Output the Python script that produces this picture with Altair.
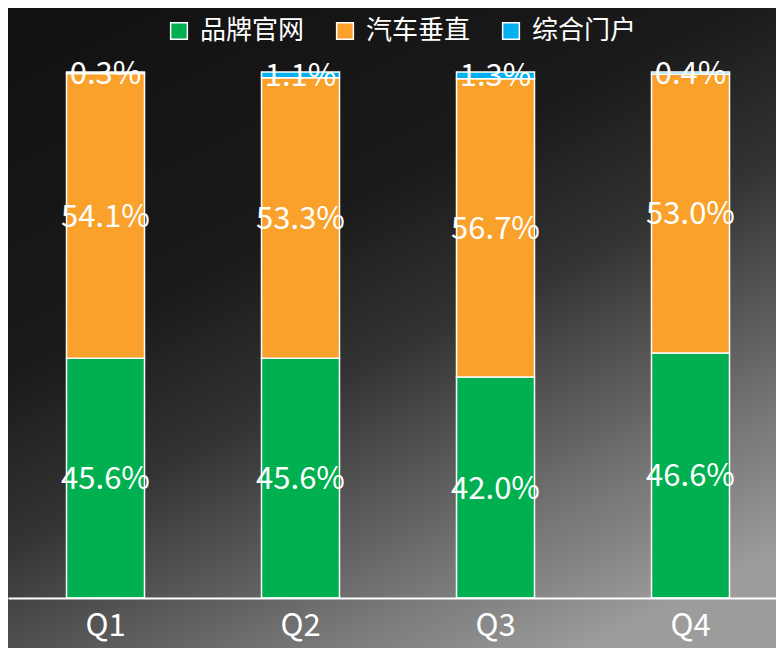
import altair as alt
import pandas as pd

quarters = ["Q1", "Q2", "Q3", "Q4"]
series = ["品牌官网", "汽车垂直", "综合门户"]
colors = ["#00B050", "#F9A12A", "#00B0F0"]
brand = [45.6, 45.6, 42.0, 46.6]
vertical = [54.1, 53.3, 56.7, 53.0]
portal = [0.3, 1.1, 1.3, 0.4]

rows = []
for i, q in enumerate(quarters):
    for k, (s, vals) in enumerate(zip(series, [brand, vertical, portal])):
        rows.append({"quarter": q, "series": s, "idx": k, "value": vals[i],
                     "label": f"{vals[i]:.1f}%"})
df = pd.DataFrame(rows)

W, H = 768, 526
PT, PB = 64, 50
FONT = "Noto Sans CJK SC"

bg = alt.Chart(pd.DataFrame({"a": [0]})).mark_rect(
    clip=False,
    fill=alt.Gradient(
        gradient="linear",
        x1=0.15, y1=0.0, x2=0.75, y2=1.0,
        stops=[
            alt.GradientStop(color="#121212", offset=0.0),
            alt.GradientStop(color="#1a1a1a", offset=0.35),
            alt.GradientStop(color="#333333", offset=0.55),
            alt.GradientStop(color="#6e6e6e", offset=0.8),
            alt.GradientStop(color="#9c9c9c", offset=1.0),
        ],
    ),
).encode(
    x=alt.value(0), x2=alt.value(W),
    y=alt.value(-PT), y2=alt.value(H + PB),
)

base = alt.Chart(df).transform_stack(
    stack="value", groupby=["quarter"], as_=["y0", "y1"],
    sort=[alt.SortField("idx", order="ascending")],
).transform_calculate(mid="(datum.y0 + datum.y1) / 2")

xscale = alt.Scale(paddingInner=0.6, paddingOuter=0.3, range=[0, 780])

xenc = alt.X("quarter:N", sort=quarters, scale=xscale,
             axis=alt.Axis(title=None, labelAngle=0, ticks=False, grid=False,
                           domainColor="white", domainWidth=2,
                           labelColor="white", labelFontSize=31,
                           labelFont=FONT, labelBaseline="bottom",
                           labelPadding=44, zindex=1))

bars = base.mark_bar(stroke="white", strokeWidth=1.5).encode(
    x=xenc,
    y=alt.Y("y0:Q", scale=alt.Scale(domain=[0, 100]), axis=None),
    y2="y1:Q",
    color=alt.Color("series:N", sort=series,
                    scale=alt.Scale(domain=series, range=colors),
                    legend=alt.Legend(
                        title=None, orient="none", direction="horizontal",
                        legendX=158, legendY=-54,
                        symbolType="square", symbolSize=280,
                        symbolStrokeColor="white", symbolStrokeWidth=1.5,
                        symbolOpacity=1,
                        labelFont=FONT, labelFontSize=26,
                        labelColor="white", labelOffset=8,
                        columnPadding=27, padding=0)),
)

texts = base.mark_text(color="white", fontSize=31,
                       font=FONT, baseline="middle", dy=2).encode(
    x=alt.X("quarter:N", sort=quarters, scale=xscale),
    y=alt.Y("mid:Q", scale=alt.Scale(domain=[0, 100])),
    text="label:N",
)

chart = alt.layer(bg, bars, texts).properties(
    width=W, height=H,
    autosize=alt.AutoSizeParams(type="none"),
    padding={"left": 0, "top": PT, "right": 0, "bottom": PB},
    background="#111111",
).configure_view(stroke=None)

chart.save("out.html", embed_options={"renderer": "svg", "actions": False})
